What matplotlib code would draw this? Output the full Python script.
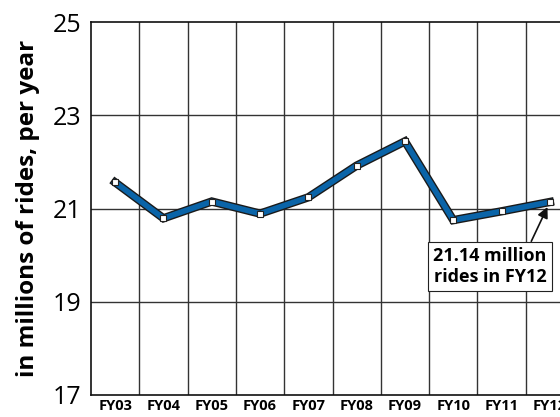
import matplotlib
matplotlib.use("Agg")
import matplotlib.pyplot as plt
import matplotlib.patheffects as pe

years = ["FY03", "FY04", "FY05", "FY06", "FY07", "FY08", "FY09", "FY10", "FY11", "FY12"]
rides = [21.56, 20.79, 21.15, 20.89, 21.24, 21.92, 22.44, 20.75, 20.94, 21.14]
y_ticks = [17, 19, 21, 23, 25]
ylabel = "in millions of rides, per year"
note = "21.14 million\nrides in FY12"

plt.rcParams['font.family'] = ['Open Sans', 'DejaVu Sans']

fig = plt.figure(figsize=(5.6, 4.17), dpi=100)
ax = fig.add_axes([91/560, 1 - 395/417, 483/560, 373/417])

x = list(range(len(years)))
ax.set_xlim(-0.5, len(years) - 0.5)
ax.set_ylim(17, 25)

# grid
for k in range(len(years) - 1):
    ax.axvline(k + 0.5, color="#333333", lw=1.0, zorder=1)
for t in y_ticks[1:-1]:
    ax.axhline(t, color="#333333", lw=1.0, zorder=1)

ax.plot(x, rides, color="#0a64a8", lw=4.0, solid_joinstyle="miter", zorder=3,
        path_effects=[pe.Stroke(linewidth=6.0, foreground="#1a1a1a"), pe.Normal()])
ax.plot(x, rides, linestyle="none", marker="s", markersize=4.5,
        markerfacecolor="white", markeredgecolor="#222222", markeredgewidth=0.8, zorder=4)

for s in ["left", "bottom", "top", "right"]:
    ax.spines[s].set_color("#111111")
    ax.spines[s].set_linewidth(1.2)

ax.set_yticks(y_ticks)
ax.set_yticklabels([str(t) for t in y_ticks], fontsize=18)
ax.set_xticks(x)
ax.set_xticklabels(years, fontsize=10.5, fontweight="bold")
ax.tick_params(axis="both", length=0)
ax.tick_params(axis="y", pad=7)
ax.tick_params(axis="x", pad=3)
ax.set_ylabel(ylabel, fontsize=17.5, fontweight="bold", labelpad=9)

ax.annotate(note, xy=(x[-1], rides[-1]), xytext=(490, 150.5), textcoords="figure pixels",
            ha="center", va="center", fontsize=13, fontweight="bold", linespacing=1.2,
            bbox=dict(boxstyle="square,pad=0.3", fc="white", ec="#222222", lw=0.8),
            arrowprops=dict(arrowstyle="-|>", color="#111111", lw=1.2, relpos=(0.84, 1.0),
                            shrinkA=0, shrinkB=4, mutation_scale=16),
            zorder=5)

fig.savefig("out.png", dpi=100)
